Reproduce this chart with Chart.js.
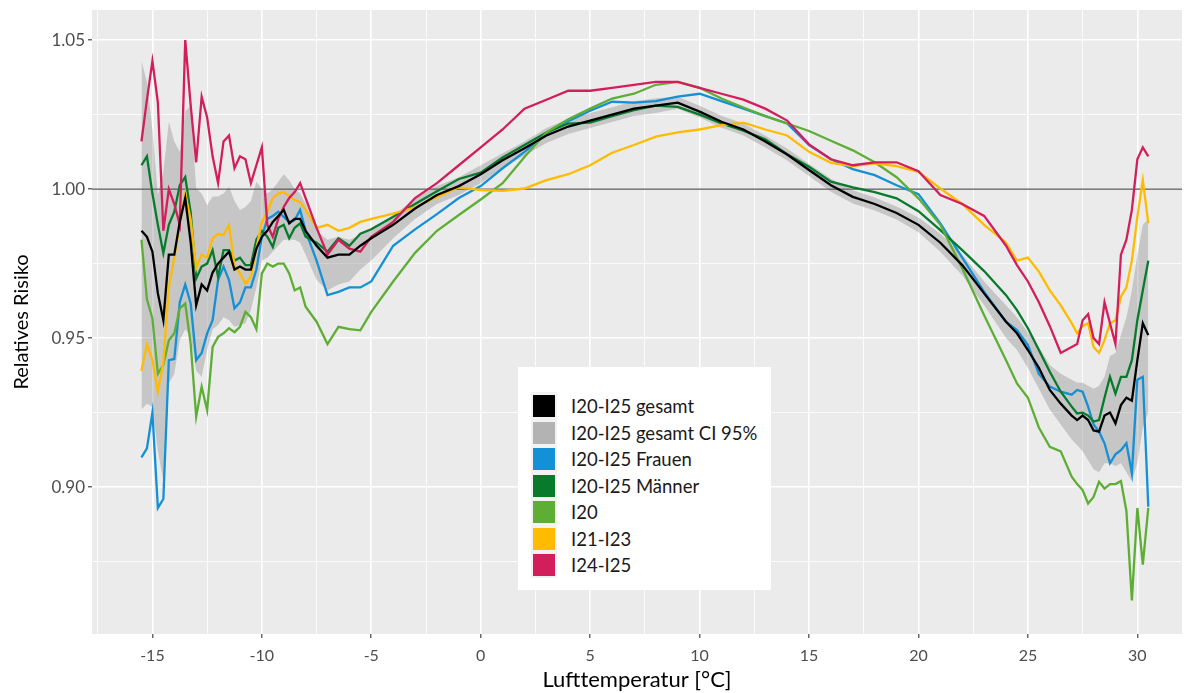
<!DOCTYPE html>
<html>
<head>
<meta charset="utf-8">
<script src="https://cdn.jsdelivr.net/npm/chart.js@4.4.1/dist/chart.umd.min.js"></script>
<style>
  body { margin: 0; background: #fff; font-family: Lato, sans-serif; }
  #wrap { position: relative; width: 1192px; height: 693px; }
  #legend { position: absolute; left: 518px; top: 367px; width: 253px; height: 223px; background: #fff; }
  #legend .keys { position: absolute; left: 13px; top: 25px; width: 26px; height: 186px; background: #f2f2f2; }
  #legend .sw { position: absolute; left: 15px; width: 22px; height: 22px; }
  #legend .lab { position: absolute; left: 53px; font-size: 18.5px; line-height: 22px; color: #1a1a1a; white-space: nowrap; }
</style>
</head>
<body>
<div id="wrap">
  <canvas id="chart" width="1192" height="693"></canvas>
  <div id="legend"><div class="keys"></div></div>
</div>
<script>
// Temperaturachse (°C)
const temps = [-15.5, -15.25, -15, -14.75, -14.5, -14.25, -14, -13.75, -13.5, -13.25, -13, -12.75, -12.5, -12.25, -12,
  -11.75, -11.5, -11.25, -11, -10.75, -10.5, -10.25, -10, -9.75, -9.5, -9.25, -9, -8.75, -8.5, -8.25, -8,
  -7.5, -7, -6.5, -6, -5.5, -5,
  -4, -3, -2, -1, 0, 1, 2, 3, 4, 5, 6, 7, 8, 9, 10, 11, 12, 13, 14, 15, 16, 17, 18, 19, 20, 21, 22, 23, 24,
  24.5, 25, 25.5, 26, 26.5,
  27, 27.25, 27.5, 27.75, 28, 28.25, 28.5, 28.75, 29, 29.25, 29.5, 29.75, 30, 30.25, 30.5];

// I20-I25 gesamt
const gesamt = [0.986, 0.984, 0.979, 0.965, 0.956, 0.978, 0.978, 0.989, 0.997, 0.982, 0.961, 0.968, 0.966, 0.972, 0.975,
  0.977, 0.979, 0.973, 0.974, 0.973, 0.973, 0.980, 0.984, 0.986, 0.989, 0.991, 0.993, 0.9885, 0.990, 0.990, 0.986,
  0.981, 0.977, 0.978, 0.978, 0.981, 0.9835,
  0.988, 0.9935, 0.998, 1.001, 1.005, 1.0097, 1.0137, 1.018, 1.021, 1.023, 1.025, 1.027, 1.028, 1.029, 1.026,
  1.0226, 1.020, 1.016, 1.0116, 1.0064, 1.0013, 0.9974, 0.995, 0.992, 0.988, 0.982, 0.9745, 0.965, 0.9555,
  0.9516, 0.946, 0.940, 0.9326, 0.928,
  0.924, 0.9225, 0.924, 0.9225, 0.919, 0.9186, 0.924, 0.925, 0.9214, 0.9275, 0.930, 0.929, 0.9426, 0.955, 0.951];

// Konfidenzintervall 95 %
const ciHigh = [1.043, 1.036, 1.020, 0.998, 1.006, 1.0226, 1.016, 1.0125, 1.026, 1.028, 1.0002, 0.9985, 0.9946, 0.9975, 0.9975,
  0.9985, 1.0008, 0.996, 0.993, 0.994, 0.996, 1.0025, 1.000, 0.9985, 1.000, 1.0025, 1.005, 1.003, 1.000, 0.9985, 0.995,
  0.986, 0.983, 0.984, 0.983, 0.9846, 0.987,
  0.991, 0.997, 1.001, 1.004, 1.008, 1.012, 1.016, 1.0205, 1.0235, 1.0255, 1.0275, 1.0295, 1.0305, 1.031, 1.028,
  1.0246, 1.022, 1.018, 1.0136, 1.0084, 1.0035, 0.9996, 0.9972, 0.9942, 0.9905, 0.985, 0.978, 0.969, 0.961,
  0.957, 0.952, 0.947, 0.941, 0.938,
  0.936, 0.935, 0.935, 0.934, 0.933, 0.934, 0.937, 0.944, 0.945, 0.951, 0.957, 0.966, 0.978, 0.988, 0.990];
const ciLow = [0.926, 0.928, 0.927, 0.912, 0.902, 0.9348, 0.938, 0.9493, 0.953, 0.9505, 0.939, 0.937, 0.946, 0.953, 0.9544,
  0.957, 0.956, 0.9538, 0.9544, 0.955, 0.9594, 0.967, 0.976, 0.977, 0.979, 0.981, 0.983, 0.983, 0.983, 0.982, 0.978,
  0.9695, 0.966, 0.968, 0.969, 0.973, 0.976,
  0.9835, 0.990, 0.995, 0.998, 1.002, 1.0072, 1.0112, 1.0155, 1.0185, 1.0205, 1.0225, 1.0245, 1.0255, 1.027, 1.024,
  1.0206, 1.018, 1.014, 1.0096, 1.0044, 0.9991, 0.9952, 0.9928, 0.9898, 0.9855, 0.979, 0.971, 0.961, 0.950,
  0.946, 0.940, 0.933, 0.926, 0.921,
  0.916, 0.914, 0.912, 0.909, 0.906, 0.905, 0.908, 0.908, 0.907, 0.908, 0.905, 0.902, 0.908, 0.920, 0.925];

// I20-I25 Frauen
const frauen = [0.910, 0.913, 0.925, 0.893, 0.896, 0.9426, 0.943, 0.962, 0.968, 0.9616, 0.9426, 0.945, 0.9516, 0.956, 0.9695,
  0.974, 0.9695, 0.960, 0.962, 0.967, 0.967, 0.973, 0.984, 0.990, 0.991, 0.9924, 0.9907, 0.989, 0.9896, 0.993, 0.986,
  0.976, 0.9644, 0.9655, 0.967, 0.967, 0.969,
  0.981, 0.9865, 0.9916, 0.997, 1.001, 1.007, 1.0125, 1.0187, 1.0228, 1.0263, 1.0293, 1.029, 1.0295, 1.031, 1.032,
  1.0295, 1.027, 1.0245, 1.022, 1.0148, 1.010, 1.0067, 1.0047, 1.0013, 0.9983, 0.9885, 0.977, 0.9655, 0.9555,
  0.9527, 0.9477, 0.938, 0.9337, 0.932,
  0.931, 0.9326, 0.932, 0.927, 0.921, 0.9186, 0.9147, 0.908, 0.911, 0.9124, 0.9147, 0.9046, 0.936, 0.937, 0.8934];

// I20-I25 Männer
const maenner = [1.008, 1.011, 0.9985, 0.988, 0.9785, 0.988, 0.9924, 1.0013, 1.004, 0.992, 0.970, 0.974, 0.975, 0.9795, 0.9706,
  0.9795, 0.9795, 0.976, 0.977, 0.9745, 0.9745, 0.983, 0.986, 0.984, 0.9806, 0.987, 0.988, 0.9835, 0.987, 0.9885, 0.984,
  0.982, 0.979, 0.9835, 0.981, 0.985, 0.9865,
  0.9907, 0.995, 0.9993, 1.0034, 1.0055, 1.0106, 1.0148, 1.019, 1.022, 1.0223, 1.0245, 1.0265, 1.028, 1.0276, 1.025,
  1.022, 1.0196, 1.0167, 1.0117, 1.0075, 1.0025, 1.0006, 0.999, 0.9969, 0.9926, 0.9862, 0.9795, 0.9725, 0.9644,
  0.9594, 0.9533, 0.946, 0.9387, 0.932,
  0.927, 0.9247, 0.925, 0.924, 0.922, 0.9225, 0.930, 0.937, 0.9314, 0.937, 0.937, 0.9426, 0.956, 0.966, 0.976];

// I20
const i20 = [0.983, 0.963, 0.9566, 0.938, 0.941, 0.9493, 0.9516, 0.960, 0.9616, 0.948, 0.9236, 0.9337, 0.9258, 0.947, 0.9504,
  0.9516, 0.9533, 0.952, 0.9538, 0.9588, 0.957, 0.953, 0.9717, 0.975, 0.974, 0.975, 0.975, 0.9717, 0.966, 0.967, 0.9605,
  0.9555, 0.948, 0.9538, 0.953, 0.9526, 0.9588,
  0.969, 0.9786, 0.986, 0.9913, 0.9965, 1.002, 1.0108, 1.019, 1.0234, 1.027, 1.0304, 1.032, 1.035, 1.036, 1.034,
  1.0304, 1.0274, 1.0245, 1.022, 1.0195, 1.0162, 1.013, 1.009, 1.004, 0.9969, 0.988, 0.9734, 0.9577, 0.9426,
  0.9348, 0.930, 0.920, 0.9135, 0.912,
  0.9035, 0.901, 0.899, 0.8945, 0.8967, 0.9018, 0.8995, 0.901, 0.901, 0.902, 0.892, 0.862, 0.893, 0.874, 0.893];

// I21-I23
const i21i23 = [0.939, 0.948, 0.9426, 0.932, 0.942, 0.967, 0.977, 0.988, 0.9985, 0.9896, 0.9735, 0.978, 0.977, 0.9835, 0.985,
  0.9846, 0.988, 0.9745, 0.9717, 0.9683, 0.9706, 0.980, 0.989, 0.9924, 0.997, 0.9985, 0.999, 0.9976, 0.9963, 0.9957, 0.993,
  0.987, 0.988, 0.986, 0.987, 0.989, 0.990,
  0.9918, 0.9939, 0.9974, 1.0006, 0.9997, 0.9994, 1.0002, 1.003, 1.005, 1.008, 1.0122, 1.0148, 1.0176, 1.019, 1.020,
  1.0215, 1.0223, 1.020, 1.018, 1.0125, 1.0088, 1.0077, 1.0086, 1.0077, 1.0058, 1.0002, 0.995, 0.988, 0.982,
  0.976, 0.977, 0.9723, 0.966, 0.961,
  0.955, 0.9516, 0.954, 0.955, 0.947, 0.945, 0.9493, 0.955, 0.956, 0.9639, 0.967, 0.976, 0.9907, 1.003, 0.9885];

// I24-I25
const i24i25 = [1.016, 1.030, 1.043, 1.029, 0.986, 1.000, 0.995, 0.988, 1.050, 1.028, 1.009, 1.031, 1.024, 1.011, 1.002,
  1.016, 1.018, 1.007, 1.011, 1.010, 1.002, 1.008, 1.014, 0.988, 0.984, 0.990, 0.994, 0.997, 0.999, 1.002, 0.997,
  0.987, 0.978, 0.983, 0.980, 0.979, 0.984,
  0.989, 0.997, 1.002, 1.008, 1.014, 1.020, 1.027, 1.030, 1.033, 1.033, 1.034, 1.035, 1.036, 1.036, 1.034,
  1.032, 1.030, 1.027, 1.023, 1.015, 1.010, 1.008, 1.009, 1.009, 1.006, 0.998, 0.995, 0.991, 0.981,
  0.9745, 0.969, 0.962, 0.954, 0.945,
  0.947, 0.948, 0.956, 0.958, 0.950, 0.948, 0.962, 0.955, 0.948, 0.978, 0.983, 0.993, 1.010, 1.014, 1.011];

const legendNames = ["I20-I25 gesamt", "I20-I25 gesamt CI 95%", "I20-I25 Frauen", "I20-I25 Männer", "I20", "I21-I23", "I24-I25"];
const legendColors = ["#000000", "#b3b3b3", "#1490d6", "#087a2c", "#5eae35", "#ffbb00", "#d31e5c"];

const xTicks = [-17.5, -15, -12.5, -10, -7.5, -5, -2.5, 0, 2.5, 5, 7.5, 10, 12.5, 15, 17.5, 20, 22.5, 25, 27.5, 30];
const yTicks = [0.875, 0.9, 0.925, 0.95, 0.975, 1.0, 1.025, 1.05];

function pts(values) {
  return temps.map((t, i) => ({ x: t, y: values[i] }));
}
function isMajorX(v) { return Math.abs(v / 5 - Math.round(v / 5)) < 1e-6; }
function isMajorY(v) { return Math.abs(v / 0.05 - Math.round(v / 0.05)) < 1e-6; }

function line(label, values, color, order) {
  return { label, data: pts(values), borderColor: color, borderWidth: 2.3, pointRadius: 0, fill: false, tension: 0, order };
}

// Panel-Hintergrund und Referenzlinie bei 1
const panelPlugin = {
  id: "panel",
  beforeDraw(chart) {
    const { ctx, chartArea: a } = chart;
    ctx.save();
    ctx.fillStyle = "#ebebeb";
    ctx.fillRect(a.left, a.top, a.right - a.left, a.bottom - a.top);
    ctx.restore();
  },
  beforeDatasetsDraw(chart) {
    const { ctx, chartArea: a, scales } = chart;
    const py = scales.y.getPixelForValue(1);
    ctx.save();
    ctx.strokeStyle = "#555555";
    ctx.lineWidth = 1.3;
    ctx.beginPath();
    ctx.moveTo(a.left, py);
    ctx.lineTo(a.right, py);
    ctx.stroke();
    ctx.restore();
  }
};

const data = {
  datasets: [
    { label: "CI low", data: pts(ciLow), borderWidth: 0, pointRadius: 0, fill: false, order: 20 },
    { label: "I20-I25 gesamt CI 95%", data: pts(ciHigh), borderWidth: 0, pointRadius: 0,
      fill: "-1", backgroundColor: "rgba(140,140,140,0.38)", order: 19 },
    line("I20-I25 Frauen", frauen, legendColors[2], 7),
    line("I20-I25 Männer", maenner, legendColors[3], 6),
    line("I20", i20, legendColors[4], 5),
    line("I21-I23", i21i23, legendColors[5], 4),
    line("I24-I25", i24i25, legendColors[6], 3),
    line("I20-I25 gesamt", gesamt, legendColors[0], 1)
  ]
};

const config = {
  type: "line",
  data: data,
  plugins: [panelPlugin],
  options: {
    responsive: false,
    animation: false,
    events: [],
    layout: { padding: { left: 0, right: 10, top: 10, bottom: 0 } },
    plugins: {
      legend: { display: false },
      tooltip: { enabled: false },
      filler: { drawTime: "beforeDatasetsDraw" }
    },
    scales: {
      x: {
        type: "linear",
        min: -17.76,
        max: 32.04,
        afterBuildTicks: (s) => { s.ticks = xTicks.map((v) => ({ value: v })); },
        afterFit: (s) => { s.height = 59; s.paddingLeft = 0; s.paddingRight = 0; },
        border: { display: false },
        grid: {
          color: "#ffffff",
          lineWidth: (c) => (isMajorX(c.tick.value) ? 1.6 : 0.8),
          tickColor: (c) => (isMajorX(c.tick.value) ? "#333333" : "rgba(0,0,0,0)"),
          tickLength: 4,
          tickWidth: 1.1
        },
        ticks: {
          autoSkip: false,
          maxRotation: 0,
          padding: 8,
          color: "#4d4d4d",
          font: { family: "Lato", size: 16 },
          callback: (v) => (isMajorX(v) ? String(v) : "")
        },
        title: {
          display: true,
          text: "Lufttemperatur [°C]",
          color: "#000000",
          font: { family: "Lato", size: 22 },
          padding: { top: 0, bottom: 0 }
        }
      },
      y: {
        min: 0.8507,
        max: 1.0601,
        afterBuildTicks: (s) => { s.ticks = yTicks.map((v) => ({ value: v })); },
        afterFit: (s) => { s.width = 92; s.paddingTop = 0; s.paddingBottom = 0; },
        border: { display: false },
        grid: {
          color: "#ffffff",
          lineWidth: (c) => (isMajorY(c.tick.value) ? 1.6 : 0.8),
          tickColor: (c) => (isMajorY(c.tick.value) ? "#333333" : "rgba(0,0,0,0)"),
          tickLength: 4,
          tickWidth: 1.1
        },
        ticks: {
          padding: 3,
          color: "#4d4d4d",
          font: { family: "Lato", size: 17 },
          callback: (v) => (isMajorY(v) ? v.toFixed(2) : "")
        },
        title: {
          display: true,
          text: "Relatives Risiko",
          color: "#000000",
          font: { family: "Lato", size: 20 },
          padding: { top: 10, bottom: 0 }
        }
      }
    }
  }
};

new Chart(document.getElementById("chart").getContext("2d"), config);

// Legende im Plotbereich
const legendBox = document.getElementById("legend");
legendNames.forEach((name, i) => {
  const top = 28 + i * 26.5;
  const sw = document.createElement("div");
  sw.className = "sw";
  sw.style.top = top + "px";
  sw.style.background = legendColors[i];
  legendBox.appendChild(sw);
  const lab = document.createElement("div");
  lab.className = "lab";
  lab.style.top = top + "px";
  lab.textContent = name;
  legendBox.appendChild(lab);
});
</script>
</body>
</html>
